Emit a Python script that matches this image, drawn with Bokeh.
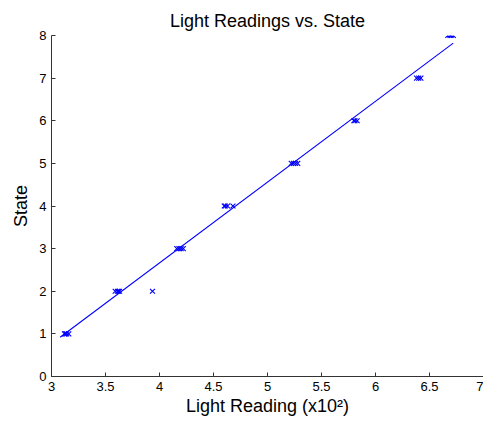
from bokeh.plotting import figure
from bokeh.models import FixedTicker, Range1d
from bokeh.embed import file_html
from bokeh.resources import INLINE

# Data
state_1_x = [3.12, 3.13, 3.14, 3.16]
state_2_x = [3.59, 3.61, 3.62, 3.63, 3.935]
state_3_x = [4.16, 4.18, 4.20, 4.22]
state_4_x = [4.60, 4.61, 4.63, 4.68]
state_5_x = [5.22, 5.24, 5.26, 5.28]
state_6_x = [5.80, 5.81, 5.83]
state_7_x = [6.38, 6.40, 6.42]
state_8_x = [6.67, 6.69, 6.70, 6.72]

groups = [state_1_x, state_2_x, state_3_x, state_4_x,
          state_5_x, state_6_x, state_7_x, state_8_x]
states = [1, 2, 3, 4, 5, 6, 7, 8]

reading_x = []
reading_y = []
for s, xs in zip(states, groups):
    reading_x += xs
    reading_y += [s] * len(xs)

fit_x = [3.08, 6.72]
fit_y = [0.92, 7.82]

x_ticks = [3, 3.5, 4, 4.5, 5, 5.5, 6, 6.5, 7]
y_ticks = [0, 1, 2, 3, 4, 5, 6, 7, 8]

FONT = "Liberation Sans"

p = figure(width=483, height=422, output_backend="svg", toolbar_location=None,
           x_range=Range1d(3, 7), y_range=Range1d(0, 8),
           title="Light Readings vs. State",
           min_border_left=51, min_border_right=0, min_border_top=35,
           min_border_bottom=46)

p.outline_line_color = None
p.xgrid.visible = False
p.ygrid.visible = False

p.title.align = "center"
p.title.text_font = FONT
p.title.text_font_size = "18px"
p.title.text_font_style = "normal"
p.title.text_color = "black"
p.title.standoff = 10

for ax in (p.xaxis[0], p.yaxis[0]):
    ax.axis_line_color = "#333333"
    ax.major_tick_line_color = "#333333"
    ax.major_tick_in = 4
    ax.major_tick_out = 0
    ax.minor_tick_line_color = None
    ax.major_label_text_font = FONT
    ax.major_label_text_font_size = "13px"
    ax.major_label_text_color = "black"
    ax.axis_label_text_font = FONT
    ax.axis_label_text_font_size = "18px"
    ax.axis_label_text_font_style = "normal"
    ax.axis_label_text_color = "black"

p.xaxis.ticker = FixedTicker(ticks=x_ticks)
p.yaxis.ticker = FixedTicker(ticks=y_ticks)
p.xaxis.axis_label = "Light Reading (x10²)"
p.yaxis.axis_label = "State"
p.xaxis.major_label_standoff = 5
p.yaxis.major_label_standoff = 5
p.xaxis.axis_label_standoff = 2
p.yaxis.axis_label_standoff = 5

p.line(fit_x, fit_y, line_color="#0000ff", line_width=1.1)
p.scatter(reading_x, reading_y, marker="x", size=7, line_color="#0000ff",
          line_width=1.1)

open("out.html", "w").write(file_html(p, INLINE))
